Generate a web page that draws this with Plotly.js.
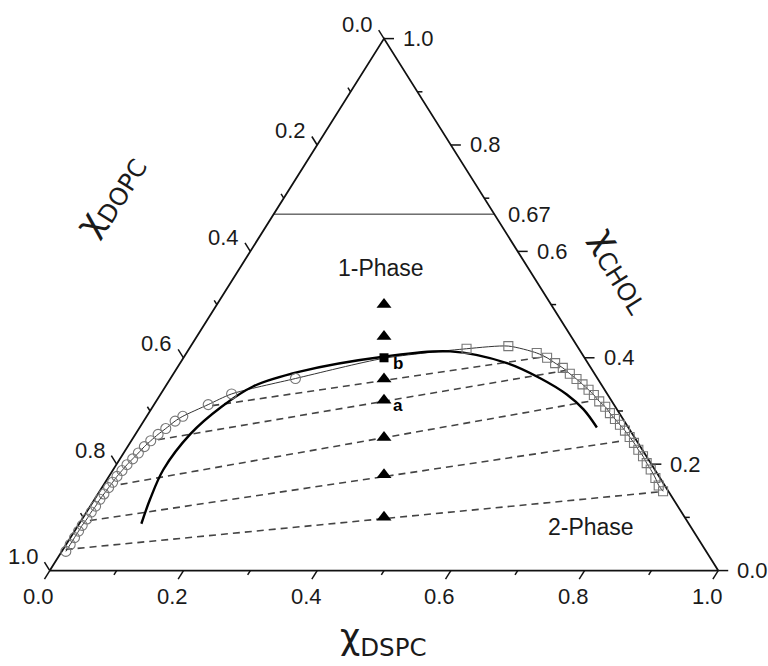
<!DOCTYPE html>
<html>
<head>
<meta charset="utf-8">
<script src="https://cdn.plot.ly/plotly-3.0.1.min.js"></script>
<style>html,body{margin:0;padding:0;background:#fff}#chart{width:768px;height:666px}</style>
</head>
<body>
<div id="chart"></div>
<script>
// ---- data: mole fractions (DSPC, CHOL); DOPC = 1 - DSPC - CHOL ----
const circleCHOL = [0.036,0.049,0.062,0.074,0.085,0.097,0.110,0.121,0.134,0.144,0.156,0.166,0.177,0.188,0.199,0.210,0.221,0.233,0.244,0.256,0.267,0.281,0.290,0.312,0.332,0.361];
const circleDSPC = [0.006,0.006,0.006,0.006,0.006,0.007,0.007,0.008,0.008,0.009,0.010,0.011,0.012,0.014,0.016,0.019,0.022,0.025,0.029,0.034,0.040,0.047,0.054,0.081,0.106,0.187];

const squareCHOL = [0.417,0.422,0.409,0.400,0.390,0.381,0.370,0.360,0.350,0.340,0.330,0.318,0.308,0.296,0.285,0.274,0.263,0.251,0.240,0.227,0.215,0.202,0.190,0.174,0.160,0.149];
const squareDSPC = [0.415,0.475,0.524,0.544,0.561,0.577,0.593,0.608,0.622,0.636,0.649,0.663,0.677,0.690,0.703,0.716,0.729,0.742,0.754,0.767,0.780,0.792,0.804,0.819,0.831,0.843];

// fitted phase boundary between the two branches (thin line bridge point)
const bridgeCHOL = [0.399];
const bridgeDSPC = [0.300];

// thick solid curve
const curveCHOL = [0.088,0.134,0.190,0.257,0.308,0.346,0.374,0.402,0.412,0.390,0.362,0.331,0.303,0.269];
const curveDSPC = [0.093,0.083,0.075,0.082,0.103,0.131,0.187,0.298,0.393,0.489,0.552,0.608,0.647,0.684];

// sample compositions (DSPC:DOPC = 1:1)
const sampleCHOL = [0.50,0.44,0.36,0.32,0.25,0.18,0.10];
const sampleDSPC = [0.25,0.28,0.32,0.34,0.375,0.41,0.45];
const pointBCHOL = [0.40];
const pointBDSPC = [0.30];

// tie lines
const tieLeftDSPC  = [0.004,0.013,0.025,0.039,0.088];
const tieLeftCHOL  = [0.0395,0.094,0.162,0.246,0.310];
const tieRightDSPC = [0.842,0.736,0.647,0.583,0.540];
const tieRightCHOL = [0.1485,0.244,0.318,0.376,0.402];

const cholLimit = 0.67;
const cornerDSPC = [0,1,0,0];
const cornerCHOL = [0,0,1,0];

const majorTicks = [0,0.2,0.4,0.6,0.8,1.0];
const minorTicks = [0.1,0.3,0.5,0.7,0.9];
const tickLabels = ['0.0','0.2','0.4','0.6','0.8','1.0'];

// ---- layout frame ----
const W = 768, H = 666;
const FX0 = 50, FY0 = 571, FW = 668, FH = 532;
const xr = [-0.07, 1.07], yr = [-0.17, 1.05];
const margin = {l: FX0 + xr[0]*FW, r: W - (FX0 + xr[1]*FW), t: FY0 - yr[1]*FH, b: H - (FY0 - yr[0]*FH), pad: 0};

// ternary -> cartesian projection (x = DSPC + CHOL/2, y = CHOL)
const X = (d, c) => d + c / 2;
const projX = (D, C) => D.map((d, i) => X(d, C[i]));
const pxX = p => (p - FX0) / FW;
const pxY = p => (FY0 - p) / FH;

// tick marks along grid directions, outward
const tb = 1 / Math.hypot(FW / 2, FH);
const tr = 1 / FW;
const tx = [], ty = [];
function seg(d0, c0, d1, c1) { tx.push(X(d0, c0), X(d1, c1), null); ty.push(c0, c1, null); }
majorTicks.map(v => [v, 10]).concat(minorTicks.map(v => [v, 5])).forEach(([v, len]) => {
  seg(v, 0, v, -len * tb);                       // bottom: DSPC
  seg(1 - v, v, 1 - v + len * tr, v);            // right: CHOL
  seg(0, 1 - v, -len * tb, 1 - v + len * tb);    // left: DOPC
});

// tie line segments
const tieX = [], tieY = [];
tieLeftDSPC.forEach((d, i) => {
  tieX.push(X(d, tieLeftCHOL[i]), X(tieRightDSPC[i], tieRightCHOL[i]), null);
  tieY.push(tieLeftCHOL[i], tieRightCHOL[i], null);
});

const thinD = circleDSPC.concat(bridgeDSPC, squareDSPC);
const thinC = circleCHOL.concat(bridgeCHOL, squareCHOL);

const traces = [
  {x: tieX, y: tieY, mode: 'lines', line: {color: '#444', width: 1.6, dash: '7px,5px'}, cliponaxis: false},
  {x: [X(0, cholLimit), X(1 - cholLimit, cholLimit)], y: [cholLimit, cholLimit], mode: 'lines', line: {color: '#222', width: 1}, cliponaxis: false},
  {x: projX(cornerDSPC, cornerCHOL), y: cornerCHOL, mode: 'lines', line: {color: '#111', width: 1.8}, cliponaxis: false},
  {x: tx, y: ty, mode: 'lines', line: {color: '#111', width: 1.5}, cliponaxis: false},
  {x: projX(thinD, thinC), y: thinC, mode: 'lines', line: {color: '#333', width: 1, shape: 'spline', smoothing: 0.7}, cliponaxis: false},
  {x: projX(curveDSPC, curveCHOL), y: curveCHOL, mode: 'lines', line: {color: '#000', width: 2.4, shape: 'spline', smoothing: 1}, cliponaxis: false},
  {x: projX(circleDSPC, circleCHOL), y: circleCHOL, mode: 'markers', marker: {symbol: 'circle-open', size: 10, color: '#777', line: {width: 1.1, color: '#777'}}, cliponaxis: false},
  {x: projX(squareDSPC, squareCHOL), y: squareCHOL, mode: 'markers', marker: {symbol: 'square-open', size: 9, color: '#777', line: {width: 1.1, color: '#777'}}, cliponaxis: false},
  {x: projX(sampleDSPC, sampleCHOL), y: sampleCHOL, mode: 'markers', marker: {symbol: 'triangle-up', size: 13, color: '#000'}, cliponaxis: false},
  {x: projX(pointBDSPC, pointBCHOL), y: pointBCHOL, mode: 'markers', marker: {symbol: 'square', size: 9, color: '#000'}, cliponaxis: false}
];

const FAM = '"Liberation Sans", Arial, Helvetica, sans-serif';
const tickFont = {family: FAM, size: 22, color: '#1a1a1a'};
const anns = [];
majorTicks.forEach((v, i) => {
  anns.push({x: X(v, 0), y: 0, text: tickLabels[i], xshift: -11, yshift: -26, xanchor: 'center', yanchor: 'middle', showarrow: false, font: tickFont});
  anns.push({x: X(0, 1 - v), y: 1 - v, text: tickLabels[i], xshift: -9, yshift: 14, xanchor: 'right', yanchor: 'middle', showarrow: false, font: tickFont});
  anns.push({x: X(1 - v, v), y: v, text: tickLabels[i], xshift: 17, yshift: 0, xanchor: 'left', yanchor: 'middle', showarrow: false, font: tickFont});
});
anns.push({x: X(1 - cholLimit, cholLimit), y: cholLimit, text: String(cholLimit), xshift: 12, xanchor: 'left', yanchor: 'middle', showarrow: false, font: tickFont});

const titleFont = {family: '"DejaVu Sans", sans-serif', size: 35, color: '#1a1a1a'};
anns.push({x: pxX(110), y: pxY(196), text: 'χ<sub>DOPC</sub>', textangle: -58, showarrow: false, xanchor: 'center', yanchor: 'middle', font: titleFont});
anns.push({x: pxX(622), y: pxY(270), text: 'χ<sub>CHOL</sub>', textangle: 58, showarrow: false, xanchor: 'center', yanchor: 'middle', font: titleFont});
anns.push({x: pxX(383), y: pxY(640), text: 'χ<sub>DSPC</sub>', showarrow: false, xanchor: 'center', yanchor: 'middle', font: titleFont});

const phaseFont = {family: FAM, size: 23, color: '#1a1a1a'};
anns.push({x: pxX(381), y: pxY(268), text: '1-Phase', showarrow: false, xanchor: 'center', yanchor: 'middle', font: phaseFont});
anns.push({x: pxX(591), y: pxY(527), text: '2-Phase', showarrow: false, xanchor: 'center', yanchor: 'middle', font: phaseFont});
const markFont = {family: FAM, size: 17, color: '#000', weight: 'bold'};
anns.push({x: X(pointBDSPC[0], pointBCHOL[0]), y: pointBCHOL[0], text: 'b', xshift: 14, yshift: -6, showarrow: false, xanchor: 'center', yanchor: 'middle', font: markFont});
anns.push({x: X(sampleDSPC[3], sampleCHOL[3]), y: sampleCHOL[3], text: 'a', xshift: 14, yshift: -5, showarrow: false, xanchor: 'center', yanchor: 'middle', font: markFont});

const layout = {
  width: W, height: H, margin: margin,
  paper_bgcolor: '#fff', plot_bgcolor: '#fff', showlegend: false,
  xaxis: {range: xr, visible: false, fixedrange: true},
  yaxis: {range: yr, visible: false, fixedrange: true},
  annotations: anns
};
Plotly.newPlot('chart', traces, layout, {staticPlot: true, displayModeBar: false});
</script>
</body>
</html>
